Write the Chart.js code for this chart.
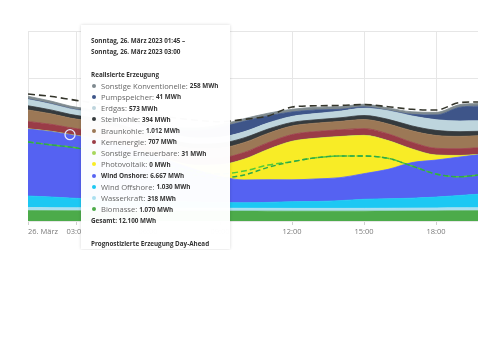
<!DOCTYPE html>
<html>
<head>
<meta charset="utf-8">
<script src="https://cdn.jsdelivr.net/npm/chart.js@4.4.1/dist/chart.umd.min.js"></script>
<style>
html,body{margin:0;padding:0;background:#fff;}
#wrap{position:relative;width:500px;height:250px;overflow:hidden;}
#c{position:absolute;left:0;top:0;}
#tip{position:absolute;left:81px;top:25px;width:149px;height:224px;background:rgba(255,255,255,0.98);
  box-shadow:0 0 3px rgba(0,0,0,0.16);font-family:'Open Sans',sans-serif;color:#333;overflow:hidden;
  box-sizing:border-box;padding:10px 0 0 10px;}
.l{height:11.25px;display:flex;align-items:center;white-space:nowrap;}
.t{font-size:6.3px;font-weight:700;color:#333;}
.n{font-size:7.6px;color:#666;}
.n.h{font-size:6.4px;font-weight:700;color:#333;}
.v{font-size:6.3px;font-weight:700;color:#333;margin-left:2px;}
.dot{display:inline-block;width:4px;height:4px;border-radius:50%;margin:0 5px 0 1px;flex:none;}
</style>
</head>
<body>
<div id="wrap">
  <canvas id="c" width="500" height="250"></canvas>
  <div id="tip"></div>
</div>
<script>
// ---- time axis (elapsed hours on 26 March 2023; DST jump 02:00 -> 03:00) ----
const hours = [0,1,1.75,2,3,4,5,6,7,8,9,10,11,12,13,14,15,16,17,18,18.75];
const timeLabels = ['00:00','01:00','01:45','03:00','04:00','05:00','06:00','07:00','08:00','09:00','10:00','11:00','12:00','13:00','14:00','15:00','16:00','17:00','18:00','19:00','19:45'];
const tickValues = [0,2,5,8,11,14,17];
const tickLabels = ['26. März','03:00','06:00','09:00','12:00','15:00','18:00'];
const dateLabel = 'Sonntag, 26. März 2023';

// ---- realised generation (MWh per quarter hour) ----
const biomasse        = [1090,1080,1069.8,1070,1065,1060,1055,1050,1045,1040,1040,1035,1030,1030,1030,1035,1040,1050,1060,1070,1075];
const wasserkraft     = [320,320,317.9,318,315,315,315,312,310,305,300,300,300,300,300,300,305,310,315,320,320];
const windOffshore    = [1220,1120,1029.9,1000,900,820,750,690,640,600,580,620,700,720,810,950,990,1040,1140,1300,1420];
const windOnshore     = [7050,6880,6666.9,6600,6300,5700,5000,4200,3400,2750,2400,2390,2300,2380,2420,2700,3100,3750,3900,4050,4150];
const photovoltaik    = [0,0,0,0,0,0,0,50,450,1200,2150,3160,4030,4250,4300,4000,3000,1400,500,130,10];
const sonstErneuerbar = [30,30,30.9,31,31,31,31,31,32,32,33,33,33,33,33,33,32,32,31,31,31];
const kernenergie     = [760,730,706.9,705,705,705,705,705,705,705,705,705,705,705,705,705,705,705,705,705,705];
const braunkohle      = [1220,1100,1011.9,1005,995,990,990,1010,1030,1040,1040,980,900,880,880,950,1050,1200,1350,1300,1250];
const steinkohle      = [440,410,393.9,390,385,390,400,440,480,500,500,450,380,360,380,430,480,520,540,500,480];
const erdgas          = [650,600,572.9,570,565,580,600,630,640,640,640,640,630,650,700,760,900,1050,1120,1120,1100];
const pumpspeicher    = [60,50,40.9,40,45,80,200,450,800,1050,1100,750,470,380,200,150,30,170,500,1450,1550];
const sonstKonv       = [290,275,257.9,258,255,255,260,265,270,275,280,280,285,285,280,275,270,270,275,280,280];

// ---- forecasts ----
const prognoseGesamt   = [13370,13100,12800,12700,12300,11800,11300,10900,10600,10450,10700,11050,12000,12130,12160,12260,12030,11760,11680,12470,12530];
const prognoseWindPV   = [8320,8000,7790,7700,7300,6800,6200,5700,5200,4950,5260,5890,6240,6660,6840,6840,6600,5790,4950,4660,4840];
const prognoseWindPV2  = [8320,8000,7790,7700,7200,6600,5900,5300,4800,4550,4840,5650,6240,6660,6840,6840,6600,5790,4950,4660,4840];

const hoverIndex = 2;

const categories = ['Biomasse','Wasserkraft','Wind Offshore','Wind Onshore','Photovoltaik','Sonstige Erneuerbare','Kernenergie','Braunkohle','Steinkohle','Erdgas','Pumpspeicher','Sonstige Konventionelle'];
const seriesData = [biomasse,wasserkraft,windOffshore,windOnshore,photovoltaik,sonstErneuerbar,kernenergie,braunkohle,steinkohle,erdgas,pumpspeicher,sonstKonv];
const colors = ['#4cab4a','#aadff0','#1cc8f3','#5562f2','#f8ec26','#a6d65e','#9a3c47','#9c7856','#353a3d','#bed5dd','#3e5589','#7f8a8f'];
const hoveredSeries = 'Wind Onshore';

function pts(arr){ return hours.map((h,i)=>({x:h,y:arr[i]})); }

const datasets = categories.map((name,k)=>({
  label:name,
  data:pts(seriesData[k]),
  backgroundColor:colors[k],
  borderColor:colors[k],
  borderWidth:0.8,
  fill:k===0?'origin':'-1',
  stack:'gen',
  order:2,
  cubicInterpolationMode:'monotone',
  pointRadius:(name===hoveredSeries)?(ctx=>ctx.dataIndex===hoverIndex?5:0):0,
  pointBorderColor:'#e4e6ff',
  pointBackgroundColor:'rgba(0,0,0,0)',
  pointBorderWidth:1.3
}));

datasets.push({label:'Prognose Gesamt',data:pts(prognoseGesamt),borderColor:'#34352b',borderWidth:1.6,borderDash:[7,4],fill:false,stack:'p1',order:1,pointRadius:0,cubicInterpolationMode:'monotone'});
datasets.push({label:'Prognose Photovoltaik und Wind (Intraday)',data:pts(prognoseWindPV2),borderColor:'#2ea84a',borderWidth:1.4,borderDash:[5,3],fill:false,stack:'p3',order:1,pointRadius:0,cubicInterpolationMode:'monotone'});
datasets.push({label:'Prognose Photovoltaik und Wind',data:pts(prognoseWindPV),borderColor:'#52c936',borderWidth:1.5,borderDash:[6,3],fill:false,stack:'p2',order:1,pointRadius:0,cubicInterpolationMode:'monotone'});

const gridCol = '#e6e6e6';
new Chart(document.getElementById('c'),{
  type:'line',
  data:{datasets},
  options:{
    responsive:false,
    animation:false,
    events:[],
    layout:{padding:{left:28,right:22,top:31,bottom:13}},
    plugins:{legend:{display:false},tooltip:{enabled:false}},
    scales:{
      x:{
        type:'linear',min:0,max:18.75,
        afterBuildTicks:(axis)=>{ axis.ticks = tickValues.map(v=>({value:v})).concat([{value:18.75}]); },
        afterFit:(axis)=>{ axis.height = 16; },
        ticks:{
          autoSkip:false,maxRotation:0,align:'inner',padding:2,
          color:'#7a7a7a',font:{family:'Open Sans',size:7.5},
          callback:(v)=>{ const i=tickValues.indexOf(v); return i>=0?tickLabels[i]:''; }
        },
        grid:{
          color:(ctx)=> (ctx.tick && ctx.tick.value===18.75)?'rgba(0,0,0,0)':gridCol,
          tickColor:(ctx)=> (ctx.tick && ctx.tick.value===18.75)?'rgba(0,0,0,0)':'#cfcfcf',
          tickLength:4,drawTicks:true,lineWidth:1
        },
        border:{display:false}
      },
      y:{
        stacked:true,min:0,max:20000,
        ticks:{display:false,stepSize:5000},
        grid:{color:gridCol,drawTicks:false,lineWidth:1},
        border:{display:false}
      }
    }
  }
});

// ---- tooltip (built from the data arrays at hoverIndex) ----
function fmt(v){ return Math.round(v).toString().replace(/\B(?=(\d{3})+(?!\d))/g,'.'); }
let html = '';
html += `<div class="l t">${dateLabel} ${timeLabels[hoverIndex]} –</div>`;
html += `<div class="l t">${dateLabel} ${timeLabels[hoverIndex+1]}</div>`;
html += `<div class="l"></div>`;
html += `<div class="l t">Realisierte Erzeugung</div>`;
let total = 0;
for(let k=categories.length-1;k>=0;k--){
  const v = seriesData[k][hoverIndex];
  total += v;
  const hcls = categories[k]===hoveredSeries?' h':'';
  html += `<div class="l"><span class="dot" style="background:${colors[k]}"></span><span class="n${hcls}">${categories[k]}:</span><span class="v">${fmt(v)} MWh</span></div>`;
}
html += `<div class="l t">Gesamt: ${fmt(total)} MWh</div>`;
html += `<div class="l"></div>`;
html += `<div class="l t">Prognostizierte Erzeugung Day-Ahead</div>`;
document.getElementById('tip').innerHTML = html;
</script>
</body>
</html>
